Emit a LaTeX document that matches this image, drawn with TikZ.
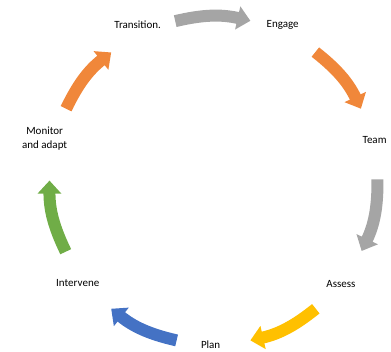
\documentclass[tikz,border=0pt]{standalone}
\usepackage{fontspec}
\setmainfont{Carlito}
\usetikzlibrary{arrows.meta}
\definecolor{cyclegray}{HTML}{A5A5A5}
\definecolor{cycleorange}{HTML}{F0873A}
\definecolor{cyclegold}{HTML}{FFC000}
\definecolor{cycleblue}{HTML}{4472C4}
\definecolor{cyclegreen}{HTML}{70AD47}

\begin{document}
\begin{tikzpicture}
            [x=1pt,y=1pt,
             lbl/.style={font=\fontsize{11}{14}\selectfont,align=center},
             arr/.style={line width=12pt,-{Triangle[width=23pt,length=13pt]}}]
            \useasboundingbox (-213.5,-170.4) rectangle (177.5,180.6);
            % labels round the cycle
            \node[lbl](engage) at (66:170){Engage};
            \node[lbl](team) at (14:166){Team};
            \node[lbl](assess) at (-39:164){Assess};
            \node[lbl](plan) at (-91:164){Plan};
            \node[lbl](intervene) at (-143:170){Intervene};
            \node[lbl](monitor) at (166:174){Monitor\\and adapt};
            \node[lbl](transition) at (116:173){Transition.};
            % arrow ends
            \coordinate (s1) at (103.5:164);
            \coordinate (e1) at (77:164);
            \coordinate (s2) at (51.6:164);
            \coordinate (e2) at (26:164);
            \coordinate (s3) at (0.4:164);
            \coordinate (e3) at (-25.4:164);
            \coordinate (s4) at (-51.4:164);
            \coordinate (e4) at (-77:164);
            \coordinate (s5) at (-103:164);
            \coordinate (e5) at (-128.6:164);
            \coordinate (s6) at (-154.3:164);
            \coordinate (e6) at (-180:164);
            \coordinate (s7) at (154:164);
            \coordinate (e7) at (128.6:164);
            \draw[arr,cyclegray](s1) to[bend left=13](e1);
            \draw[arr,cycleorange](s2) to[bend left=13](e2);
            \draw[arr,cyclegray](s3) to[bend left=13](e3);
            \draw[arr,cyclegold](s4) to[bend left=13](e4);
            \draw[arr,cycleblue](s5) to[bend left=13](e5);
            \draw[arr,cyclegreen](s6) to[bend left=13](e6);
            \draw[arr,cycleorange](s7) to[bend left=13](e7);
        \end{tikzpicture}
\end{document}
